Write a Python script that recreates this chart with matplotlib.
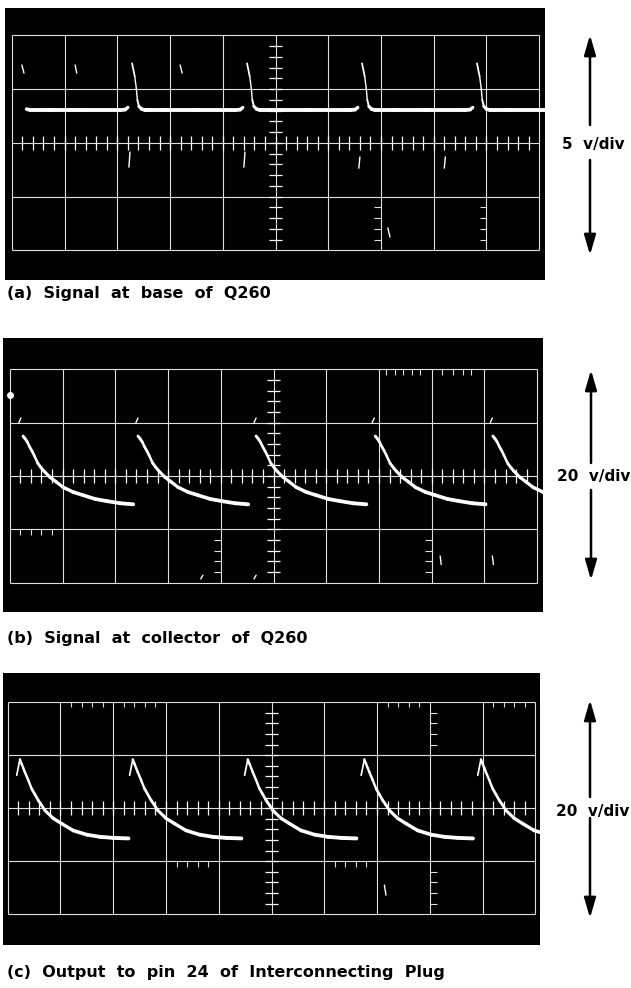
import matplotlib.pyplot as plt
import numpy as np
from matplotlib.collections import LineCollection
from matplotlib.patches import FancyArrowPatch

W, H = 631, 988

# one sweep of each trace, in graticule divisions
# (t = divisions after the start of the sweep, v = divisions above centre)
base_t = [0, 0.05, 0.08, 0.10, 0.13, 0.18, 0.25, 0.60, 1.20, 1.95, 2.05, 2.10]
base_v = [1.48, 1.24, 1.02, 0.80, 0.68, 0.63, 0.61, 0.61, 0.61, 0.61, 0.62, 0.66]
base_starts = [0.10, 2.28, 4.46, 6.64, 8.82]

coll_t = [0, 0.04, 0.08, 0.13, 0.17, 0.21, 0.28, 0.34, 0.40, 0.51, 0.63, 0.76, 0.95, 1.14, 1.37, 1.59, 1.84, 2.09]
coll_v = [0.75, 0.70, 0.64, 0.54, 0.47, 0.39, 0.24, 0.16, 0.09, -0.02, -0.11, -0.21, -0.30, -0.36, -0.43, -0.47, -0.51, -0.53]
coll_starts = [0.25, 2.43, 4.67, 6.93, 9.16]

out_t = [-0.06, 0.0, 0.032, 0.063, 0.095, 0.158, 0.222, 0.285, 0.347, 0.41, 0.474, 0.63, 0.79, 1.01, 1.27, 1.52, 1.77, 2.06]
out_v = [0.62, 0.92, 0.84, 0.76, 0.68, 0.53, 0.37, 0.26, 0.15, 0.06, -0.04, -0.19, -0.29, -0.42, -0.50, -0.54, -0.56, -0.57]
out_starts = [0.23, 2.37, 4.55, 6.76, 8.97]

captions = ['(a)  Signal  at  base  of  Q260',
            '(b)  Signal  at  collector  of  Q260',
            '(c)  Output  to  pin  24  of  Interconnecting  Plug']
scales = ['5  v/div', '20  v/div', '20  v/div']

# stray marks left on the film: (x0, y0, x1, y1) in divisions
stray_a = [(0.19, 1.45, 0.23, 1.30), (1.20, 1.45, 1.23, 1.30), (3.19, 1.45, 3.23, 1.30),
           (2.24, -0.17, 2.22, -0.45), (4.42, -0.17, 4.40, -0.45), (6.60, -0.26, 6.58, -0.47),
           (8.22, -0.26, 8.20, -0.47), (7.13, -1.58, 7.17, -1.75)]
stray_b = [(0.17, 1.0, 0.21, 1.09), (2.39, 1.0, 2.43, 1.09), (4.63, 1.0, 4.67, 1.09),
           (6.87, 1.0, 6.91, 1.09), (9.11, 1.0, 9.15, 1.09),
           (8.16, -1.50, 8.18, -1.66), (9.15, -1.50, 9.17, -1.66),
           (3.62, -1.93, 3.66, -1.86), (4.63, -1.93, 4.67, -1.86)]
stray_c = [(7.14, -1.45, 7.17, -1.64)]

# partial graticule tick rows: (line, positions, side) -- 'h' hangs from a
# horizontal line, 'l'/'r' stick out from a vertical line
ticks_b = [(2, [7.13, 7.31, 7.46, 7.63, 7.78], 'h'), (2, [8.2, 8.4, 8.6, 8.75], 'h'),
           (-1, [0.2, 0.4, 0.6, 0.8], 'h'),
           (4, [-1.2, -1.4, -1.6, -1.8], 'l'), (8, [-1.2, -1.4, -1.6, -1.8], 'l')]
ticks_a = [(7, [-1.2, -1.4, -1.6, -1.8], 'l'), (9, [-1.2, -1.4, -1.6, -1.8], 'l')]
ticks_c = [(2, [1.2, 1.4, 1.6, 1.8], 'h'), (2, [2.2, 2.4, 2.6, 2.8], 'h'),
           (2, [7.2, 7.4, 7.6, 7.8], 'h'), (2, [9.2, 9.4, 9.6, 9.8], 'h'),
           (-1, [3.2, 3.4, 3.6, 3.8], 'h'), (-1, [6.2, 6.4, 6.6, 6.8], 'h'),
           (8, [1.2, 1.4, 1.6, 1.8], 'r'), (8, [-1.2, -1.4, -1.6, -1.8], 'r')]

grid_col = '#e0e0e0'


def px_axes(fig, l, t, r, b):
    return fig.add_axes([l / W, 1 - b / H, (r - l) / W, (b - t) / H])


def graticule(ax):
    ax.vlines(range(11), -2, 2, color=grid_col, lw=0.8)
    ax.hlines(range(-2, 3), 0, 10, color=grid_col, lw=0.8)
    ax.vlines(np.arange(0.2, 10, 0.2), -0.13, 0.13, color='white', lw=0.9)
    ax.hlines(np.arange(-1.8, 2, 0.2), 4.87, 5.13, color='white', lw=0.9)


def partial_ticks(ax, rows):
    for line, pos, side in rows:
        if side == 'h':
            ax.vlines(pos, line - 0.1, line, color=grid_col, lw=0.8)
        elif side == 'l':
            ax.hlines(pos, line - 0.13, line, color=grid_col, lw=0.8)
        else:
            ax.hlines(pos, line, line + 0.13, color=grid_col, lw=0.8)


def strays(ax, marks):
    for x0, y0, x1, y1 in marks:
        ax.plot([x0, x1], [y0, y1], color='white', lw=1.0, solid_capstyle='round')


def trace(ax, t, v, starts, t_min=-1.0):
    for s in starts:
        x = np.array(t) + s
        y = np.array(v)
        keep = x >= t_min
        x, y = x[keep], y[keep]
        pts = np.column_stack([x, y])
        segs = np.stack([pts[:-1], pts[1:]], axis=1)
        slope = np.abs(np.diff(y) / np.diff(x))
        # fast parts of the sweep expose the film less, so they look thinner
        widths = np.clip(2.8 / (1 + 0.25 * slope), 1.0, 2.8)
        lc = LineCollection(segs, colors='white', linewidths=widths, capstyle='round',
                            joinstyle='round')
        ax.add_collection(lc)


fig = plt.figure(figsize=(W / 100, H / 100), dpi=100)
fig.patch.set_facecolor('white')

over = fig.add_axes([0, 0, 1, 1])
over.set_xlim(0, W)
over.set_ylim(H, 0)
over.axis('off')

panels = [
    dict(rect=(5, 8, 545, 280), xlim=(-0.13, 10.11), ylim=(-2.55, 2.51),
         t=base_t, v=base_v, starts=base_starts, t_min=0.26, ticks=ticks_a, marks=stray_a),
    dict(rect=(3, 338, 543, 612), xlim=(-0.13, 10.11), ylim=(-2.55, 2.59),
         t=coll_t, v=coll_v, starts=coll_starts, t_min=0.0, ticks=ticks_b, marks=stray_b),
    dict(rect=(3, 673, 540, 945), xlim=(-0.09, 10.09), ylim=(-2.58, 2.55),
         t=out_t, v=out_v, starts=out_starts, t_min=0.0, ticks=ticks_c, marks=stray_c),
]

for p in panels:
    ax = px_axes(fig, *p['rect'])
    ax.set_facecolor('black')
    ax.set_xlim(*p['xlim'])
    ax.set_ylim(*p['ylim'])
    ax.set_xticks([])
    ax.set_yticks([])
    for sp in ax.spines.values():
        sp.set_visible(False)
    graticule(ax)
    partial_ticks(ax, p['ticks'])
    strays(ax, p['marks'])
    trace(ax, p['t'], p['v'], p['starts'], p['t_min'])
    if p is panels[1]:
        ax.plot([0], [1.52], 'o', color='white', ms=4)

# captions under each photo
for txt, yb in zip(captions, [298, 643, 977]):
    over.text(7, yb, txt, fontsize=11.5, fontweight='bold', va='baseline', ha='left',
              family='DejaVu Sans')

# volts/div arrows on the right
arrows = [(590, 35, 125, 160, 255, 148.5), (591, 370, 463, 490, 580, 481),
          (590, 700, 797, 818, 918, 816)]
for (x, top, gap0, gap1, bot, yb), txt in zip(arrows, scales):
    for a, b in [(gap0, top), (gap1, bot)]:
        arr = FancyArrowPatch((x, a), (x, b), arrowstyle='-|>,head_length=12,head_width=3.5',
                              mutation_scale=1, lw=1.8, color='black', shrinkA=0, shrinkB=0)
        over.add_patch(arr)
    over.text(x + 3, yb, txt, fontsize=11, fontweight='bold', va='baseline', ha='center',
              family='DejaVu Sans')

fig.savefig('out.png', dpi=100, facecolor='white')
